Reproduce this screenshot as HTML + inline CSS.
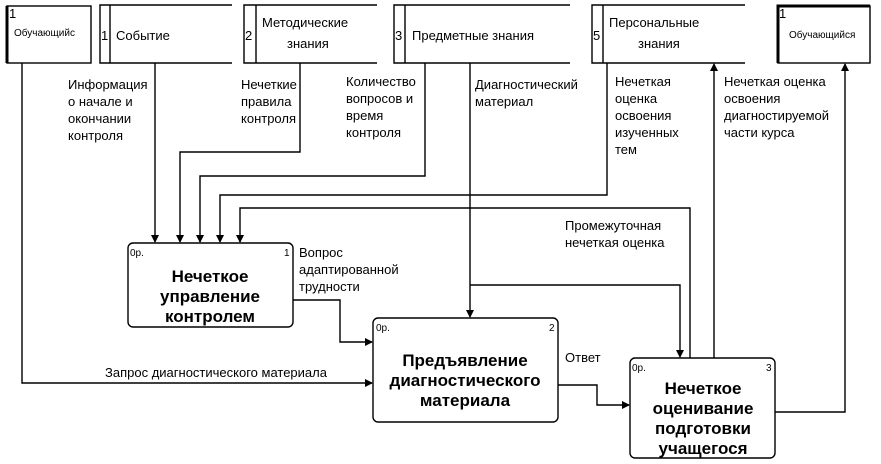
<!DOCTYPE html>
<html><head><meta charset="utf-8"><style>
html,body{margin:0;padding:0;background:#fff;}
svg{display:block;font-family:"Liberation Sans",Arial,sans-serif;}
text{font-size:13px;fill:#000;}
.b{font-weight:bold;font-size:17px;}
.s{font-size:10px;}
</style></head><body>
<svg width="881" height="464" viewBox="0 0 881 464" xmlns="http://www.w3.org/2000/svg">
<defs><marker id="a" markerWidth="8" markerHeight="8" refX="7" refY="4" orient="auto" markerUnits="userSpaceOnUse"><path d="M0,0 L8,4 L0,8 z" fill="#000"/></marker></defs>
<g fill="none" stroke="#000" stroke-width="1.4">
<rect x="7" y="6" width="84" height="57"/><line x1="7" y1="6" x2="7" y2="63" stroke-width="3"/>
<path d="M232,5 H100 V63 H232"/><line x1="110" y1="5" x2="110" y2="63"/>
<path d="M377,5 H244 V63 H377"/><line x1="256" y1="5" x2="256" y2="63"/>
<path d="M570,5 H394 V63 H570"/><line x1="405" y1="5" x2="405" y2="63"/>
<path d="M745,5 H592 V63 H745"/><line x1="603" y1="5" x2="603" y2="63"/>
<rect x="778" y="6" width="92" height="57"/><path d="M778,63 V6 H870" stroke-width="3"/>
<rect x="128" y="243" width="165" height="84" rx="5"/>
<rect x="373" y="318" width="185" height="104" rx="5"/>
<rect x="630" y="358" width="145" height="100" rx="5"/>
<path d="M22,63 V383 H372" marker-end="url(#a)"/>
<path d="M155,63 V242" marker-end="url(#a)"/>
<path d="M300,63 V152 H180 V242" marker-end="url(#a)"/>
<path d="M425,63 V176 H200 V242" marker-end="url(#a)"/>
<path d="M607,63 V195 H220 V242" marker-end="url(#a)"/>
<path d="M690,358 V208 H240 V242" marker-end="url(#a)"/>
<path d="M470,63 V317" marker-end="url(#a)"/>
<path d="M470,285 H680 V357" marker-end="url(#a)"/>
<path d="M714,358 V64" marker-end="url(#a)"/>
<path d="M775,412 H845 V64" marker-end="url(#a)"/>
<path d="M293,300 H340 V342 H372" marker-end="url(#a)"/>
<path d="M558,385 H597 V405 H629" marker-end="url(#a)"/>
</g>
<text x="9" y="18">1</text><text class="s" x="14" y="36">Обучающийс</text>
<text x="101" y="40">1</text><text x="116" y="40">Событие</text>
<text x="245" y="40">2</text><text x="262" y="27">Методические</text><text x="287" y="48">знания</text>
<text x="395" y="40">3</text><text x="412" y="40">Предметные знания</text>
<text x="593" y="40">5</text><text x="609" y="27">Персональные</text><text x="638" y="48">знания</text>
<text x="779" y="18">1</text><text class="s" x="789" y="38">Обучающийся</text>
<text x="68" y="89">Информация</text><text x="68" y="106">о начале и</text><text x="68" y="123">окончании</text><text x="68" y="140">контроля</text>
<text x="241" y="89">Нечеткие</text><text x="241" y="106">правила</text><text x="241" y="123">контроля</text>
<text x="346" y="86">Количество</text><text x="346" y="103">вопросов и</text><text x="346" y="120">время</text><text x="346" y="137">контроля</text>
<text x="475" y="89">Диагностический</text><text x="475" y="106">материал</text>
<text x="615" y="86">Нечеткая</text><text x="615" y="103">оценка</text><text x="615" y="120">освоения</text><text x="615" y="137">изученных</text><text x="615" y="154">тем</text>
<text x="724" y="86">Нечеткая оценка</text><text x="724" y="103">освоения</text><text x="724" y="120">диагностируемой</text><text x="724" y="137">части курса</text>
<text x="565" y="230">Промежуточная</text><text x="565" y="247">нечеткая оценка</text>
<text x="299" y="257">Вопрос</text><text x="299" y="274">адаптированной</text><text x="299" y="291">трудности</text>
<text x="105" y="377">Запрос диагностического материала</text>
<text x="565" y="362">Ответ</text>
<text class="s" x="130" y="256">0р.</text><text class="s" x="284" y="256">1</text>
<text class="b" x="210" y="282" text-anchor="middle">Нечеткое</text>
<text class="b" x="210" y="302" text-anchor="middle">управление</text>
<text class="b" x="210" y="322" text-anchor="middle">контролем</text>
<text class="s" x="376" y="331">0р.</text><text class="s" x="549" y="331">2</text>
<text class="b" x="465" y="366" text-anchor="middle">Предъявление</text>
<text class="b" x="465" y="386" text-anchor="middle">диагностического</text>
<text class="b" x="465" y="406" text-anchor="middle">материала</text>
<text class="s" x="632" y="371">0р.</text><text class="s" x="766" y="371">3</text>
<text class="b" x="703" y="394" text-anchor="middle">Нечеткое</text>
<text class="b" x="703" y="414" text-anchor="middle">оценивание</text>
<text class="b" x="703" y="434" text-anchor="middle">подготовки</text>
<text class="b" x="703" y="454" text-anchor="middle">учащегося</text>
</svg>
</body></html>
